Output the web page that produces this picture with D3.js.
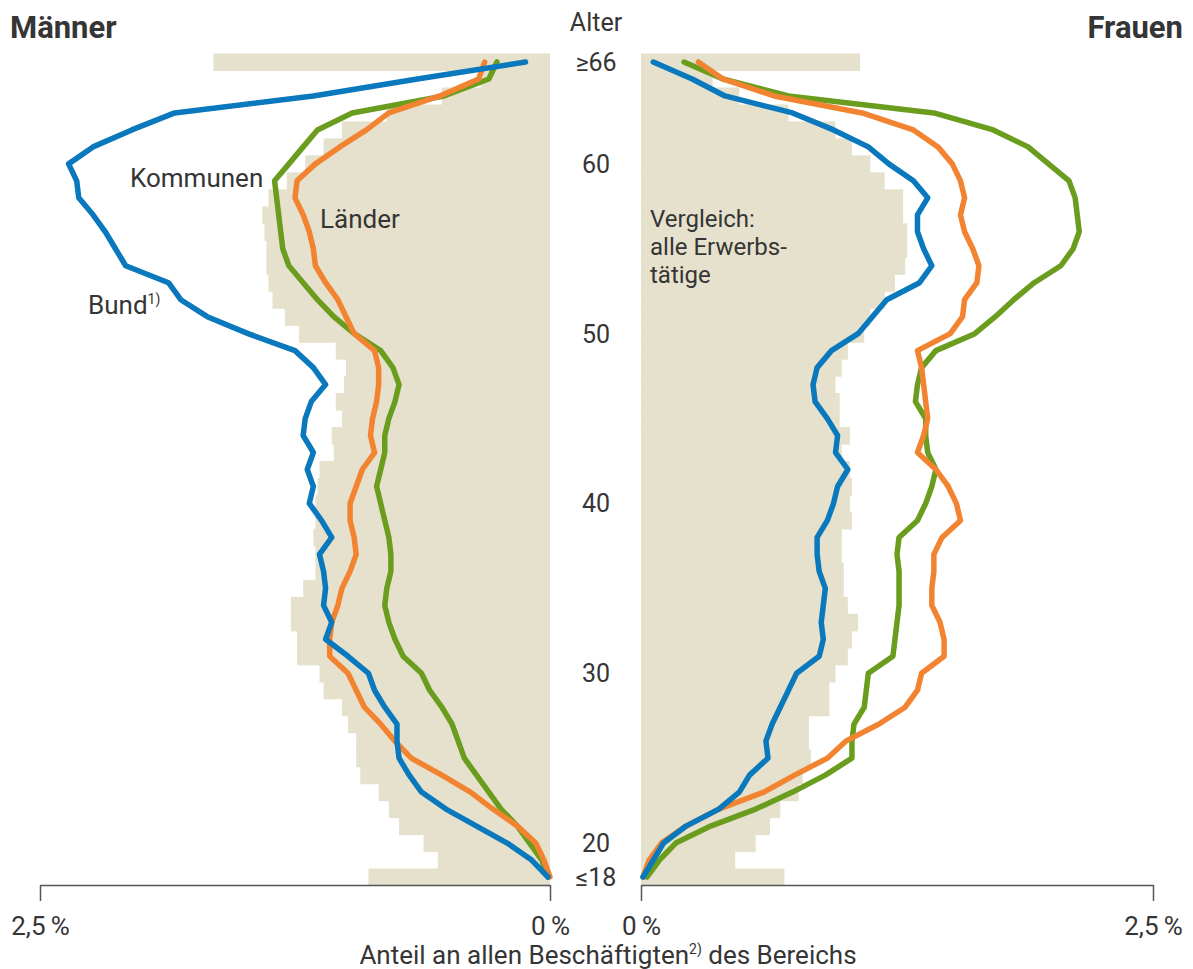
<!DOCTYPE html>
<html>
<head>
<meta charset="utf-8">
<script src="https://cdn.jsdelivr.net/npm/d3@7"></script>
<style>
body { margin: 0; background: #fff; }
text { font-family: Roboto, "Noto Sans", sans-serif; fill: #353535; }
</style>
</head>
<body>
<div id="chart-area"></div>
<script>
// ages from >=66 down to <=18
var ages = d3.range(66, 17, -1);

// Männer, share in % per age year (same order as ages)
var menAll = [1.65,0.34,0.53,0.80,1.02,1.11,1.20,1.29,1.38,1.41,1.40,1.39,1.39,1.38,1.36,1.30,1.23,
  1.05,1.00,1.01,1.05,1.02,1.07,1.06,1.13,1.14,1.15,1.15,1.16,1.15,1.15,1.21,1.27,1.27,1.24,1.24,
  1.13,1.11,1.02,0.99,0.95,0.95,0.93,0.84,0.79,0.74,0.62,0.55,0.89];
var menBund = [0.12,0.65,1.16,1.84,2.05,2.24,2.36,2.32,2.31,2.24,2.18,2.13,2.08,1.87,1.81,1.68,1.48,
  1.25,1.16,1.10,1.17,1.20,1.21,1.16,1.19,1.16,1.18,1.12,1.07,1.13,1.11,1.10,1.11,1.07,1.10,0.99,
  0.89,0.86,0.81,0.75,0.75,0.74,0.69,0.63,0.51,0.36,0.21,0.09,0.01];
var menLaender = [0.32,0.35,0.54,0.79,0.90,1.03,1.15,1.24,1.25,1.21,1.18,1.16,1.15,1.10,1.04,1.00,0.96,
  0.86,0.84,0.84,0.85,0.87,0.88,0.86,0.92,0.95,0.98,0.98,0.96,0.95,0.98,1.02,1.04,1.07,1.08,1.08,
  0.99,0.95,0.91,0.83,0.76,0.68,0.53,0.39,0.28,0.16,0.07,0.03,0.00];
var menKommunen = [0.26,0.30,0.52,0.97,1.14,1.21,1.28,1.35,1.34,1.33,1.32,1.31,1.28,1.21,1.14,1.06,0.96,
  0.83,0.77,0.74,0.76,0.79,0.81,0.81,0.83,0.85,0.83,0.81,0.79,0.78,0.78,0.80,0.81,0.79,0.76,0.72,
  0.63,0.59,0.53,0.48,0.45,0.42,0.36,0.30,0.24,0.16,0.10,0.04,0.01];

// Frauen
var womenAll = [1.07,0.35,0.48,0.72,0.95,1.03,1.12,1.19,1.28,1.28,1.30,1.30,1.29,1.24,1.19,1.12,1.09,
  1.01,0.98,0.95,0.97,0.97,1.02,0.98,1.02,1.03,1.02,1.03,0.98,0.98,0.99,0.99,1.01,1.06,1.03,1.01,
  0.95,0.92,0.92,0.82,0.82,0.83,0.79,0.77,0.68,0.63,0.56,0.46,0.70];
var womenBund = [0.06,0.25,0.41,0.74,0.94,1.11,1.21,1.33,1.40,1.35,1.35,1.38,1.42,1.36,1.20,1.13,1.06,
  0.93,0.86,0.84,0.85,0.91,0.96,0.95,1.01,0.96,0.94,0.91,0.86,0.86,0.87,0.90,0.89,0.88,0.89,0.87,
  0.76,0.72,0.68,0.64,0.61,0.62,0.53,0.48,0.38,0.22,0.11,0.06,0.01];
var womenLaender = [0.28,0.40,0.65,1.08,1.33,1.45,1.52,1.56,1.58,1.56,1.58,1.62,1.65,1.64,1.58,1.57,1.51,
  1.35,1.37,1.38,1.39,1.40,1.38,1.35,1.44,1.50,1.54,1.56,1.47,1.43,1.43,1.42,1.42,1.46,1.48,1.48,
  1.37,1.35,1.29,1.16,1.00,0.91,0.75,0.60,0.38,0.22,0.10,0.04,0.01];
var womenKommunen = [0.21,0.40,0.72,1.43,1.72,1.89,1.99,2.09,2.12,2.13,2.14,2.11,2.05,1.92,1.82,1.73,1.63,
  1.44,1.37,1.35,1.34,1.39,1.39,1.40,1.44,1.42,1.39,1.35,1.26,1.25,1.26,1.26,1.26,1.25,1.24,1.23,
  1.11,1.10,1.09,1.04,1.03,1.03,0.90,0.74,0.56,0.34,0.17,0.09,0.03];

var ageTicks = [66, 60, 50, 40, 30, 20, 18];
var ageTickLabels = ["\u226566", "60", "50", "40", "30", "20", "\u226418"];
var axisTicks = [0, 2.5];

var colors = { bund: "#0a78bd", laender: "#f28431", kommunen: "#6a9c1e", all: "#e6e1cc" };

var width = 1193, height = 969;

var svg = d3.select("#chart-area")
    .append("svg")
    .attr("width", width)
    .attr("height", height);

var y = d3.scaleBand()
    .domain(ages)
    .range([53.5, 885.5]);
var bw = y.bandwidth();

var xL = d3.scaleLinear().domain([0, 2.5]).range([550, 40]);
var xR = d3.scaleLinear().domain([0, 2.5]).range([641, 1153]);

function drawSide(x, all, series) {
    var g = svg.append("g");

    g.selectAll("rect.all")
        .data(all)
        .enter()
        .append("rect")
        .attr("class", "all")
        .attr("x", function(d) { return Math.min(x(d), x(0)); })
        .attr("width", function(d) { return Math.abs(x(d) - x(0)); })
        .attr("y", function(d, i) { return y(ages[i]); })
        .attr("height", bw + 0.6)
        .attr("fill", colors.all);

    var line = d3.line()
        .x(function(d) { return x(d); })
        .y(function(d, i) { return y(ages[i]) + bw / 2; });

    series.forEach(function(s) {
        g.append("path")
            .attr("d", line(s.values))
            .attr("fill", "none")
            .attr("stroke", s.color)
            .attr("stroke-width", 5.5)
            .attr("stroke-linejoin", "round")
            .attr("stroke-linecap", "round");
    });

    var axis = d3.axisBottom(x)
        .tickValues(axisTicks)
        .tickSize(16)
        .tickSizeOuter(0)
        .tickPadding(16)
        .tickFormat(function(d) { return d === 0 ? "0\u2009%" : "2,5\u2009%"; });

    var ag = g.append("g")
        .attr("transform", "translate(0," + 885 + ")")
        .call(axis);
    ag.selectAll("path, line").attr("stroke", "#555").attr("stroke-width", 1.5);
    ag.selectAll("text")
        .attr("font-size", "26px")
        .style("font-family", "Roboto, sans-serif")
        .attr("fill", "#353535");
}

drawSide(xL, menAll, [
    { color: colors.kommunen, values: menKommunen },
    { color: colors.laender, values: menLaender },
    { color: colors.bund, values: menBund }
]);
drawSide(xR, womenAll, [
    { color: colors.kommunen, values: womenKommunen },
    { color: colors.laender, values: womenLaender },
    { color: colors.bund, values: womenBund }
]);

// age labels in the middle
svg.selectAll("text.age")
    .data(ageTicks)
    .enter()
    .append("text")
    .attr("class", "age")
    .attr("x", 596)
    .attr("y", function(d) { return y(d) + bw / 2; })
    .attr("dy", "0.36em")
    .attr("text-anchor", "middle")
    .attr("font-size", "25px")
    .text(function(d, i) { return ageTickLabels[i]; });

svg.append("text")
    .attr("x", 596).attr("y", 31)
    .attr("text-anchor", "middle")
    .attr("font-size", "25px")
    .text("Alter");

svg.append("text")
    .attr("x", 10).attr("y", 38)
    .attr("font-size", "31px")
    .attr("font-weight", "bold")
    .text("Männer");

svg.append("text")
    .attr("x", 1183).attr("y", 38)
    .attr("text-anchor", "end")
    .attr("font-size", "31px")
    .attr("font-weight", "bold")
    .text("Frauen");

// series labels
svg.append("text")
    .attr("x", 130).attr("y", 187)
    .attr("font-size", "26px")
    .text("Kommunen");

svg.append("text")
    .attr("x", 320).attr("y", 228)
    .attr("font-size", "26px")
    .text("Länder");

var bund = svg.append("text")
    .attr("x", 88).attr("y", 314)
    .attr("font-size", "26px");
bund.append("tspan").text("Bund");
bund.append("tspan").attr("font-size", "14px").attr("dy", "-10").text("1)");

// comparison label, one text per line
["Vergleich:", "alle Erwerbs-", "tätige"].forEach(function(t, i) {
    svg.append("text")
        .attr("x", 650)
        .attr("y", 227 + i * 28)
        .attr("font-size", "24px")
        .text(t);
});

var title = svg.append("text")
    .attr("x", 608).attr("y", 964)
    .attr("text-anchor", "middle")
    .attr("font-size", "26px");
title.append("tspan").text("Anteil an allen Beschäftigten");
title.append("tspan").attr("font-size", "14px").attr("dy", "-10").text("2)");
title.append("tspan").attr("dy", "10").text(" des Bereichs");
</script>
</body>
</html>
